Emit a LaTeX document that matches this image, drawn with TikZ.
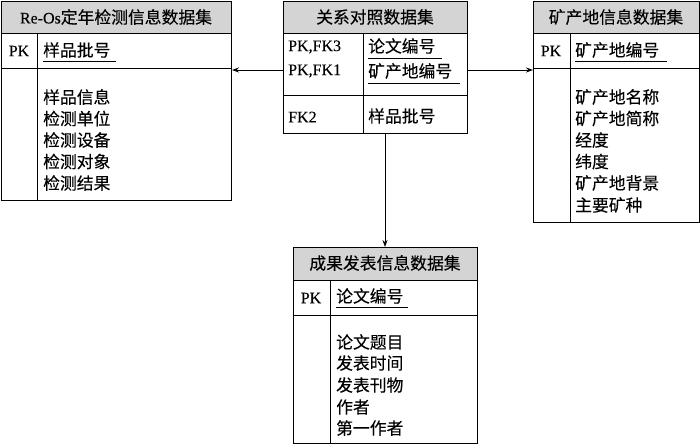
\documentclass[tikz,border=0pt]{standalone}
\usepackage{fontspec}
\setmainfont[FakeBold=0.15]{Liberation Serif}
\newfontfamily\cjk[Scale=1.05,FakeBold=0.15]{Noto Sans CJK SC}
\usetikzlibrary{arrows.meta}
\begin{document}
\begin{tikzpicture}[x=1pt,y=-1pt,
  ent/.style={draw, line width=1pt, anchor=north west, inner sep=0pt},
  hdr/.style={draw, line width=1pt, fill=black!17, anchor=north west, inner sep=0pt},
  sep/.style={line width=1pt},
  uline/.style={line width=0.8pt},
  lbl/.style={anchor=west, inner sep=0pt, font=\fontsize{16}{18}\selectfont},
  ttl/.style={inner sep=0pt, font=\fontsize{16}{18}\selectfont},
  arr/.style={line width=0.9pt, -{Stealth[length=7pt,width=5pt]}}]
\useasboundingbox (0,0) rectangle (700,446);

% ---------- Box A (left) ----------
\node[hdr, minimum width=230pt, minimum height=32pt] (Ah) at (1,1) {};
\node[ent, minimum width=230pt, minimum height=199pt] (A) at (1,1) {};
\draw[sep] (1,69) -- (231,69);
\draw[sep] (37,33) -- (37,200);
\node[ttl] (At) at (116,17) {Re-Os{\cjk 定年检测信息数据集}};
\node[ttl] (Apk) at (19,51) {PK};
\node[lbl] (Ak) at (43,50) {\cjk 样品批号};
\draw[uline] (43,61) -- (116,61);
\node[lbl] (A1) at (43,97) {\cjk 样品信息};
\node[lbl] (A2) at (43,118.5) {\cjk 检测单位};
\node[lbl] (A3) at (43,140) {\cjk 检测设备};
\node[lbl] (A4) at (43,161.5) {\cjk 检测对象};
\node[lbl] (A5) at (43,183) {\cjk 检测结果};

% ---------- Box C (center) ----------
\node[hdr, minimum width=184pt, minimum height=32pt] (Ch) at (283,1) {};
\node[ent, minimum width=184pt, minimum height=132pt] (C) at (283,1) {};
\draw[sep] (283,96) -- (467,96);
\draw[sep] (363,33) -- (363,133);
\node[ttl] (Ct) at (375,17) {\cjk 关系对照数据集};
\node[lbl] (Cpk1) at (288,47) {PK,FK3};
\node[lbl] (Cpk2) at (288,71) {PK,FK1};
\node[lbl] (Cfk) at (288,117) {FK2};
\node[lbl] (Ck1) at (368,46) {\cjk 论文编号};
\draw[uline] (368,58) -- (442,58);
\node[lbl] (Ck2) at (368,71) {\cjk 矿产地编号};
\draw[uline] (368,83) -- (460,83);
\node[lbl] (Ck3) at (368,116) {\cjk 样品批号};

% ---------- Box B (right) ----------
\node[hdr, minimum width=166pt, minimum height=32pt] (Bh) at (533,1) {};
\node[ent, minimum width=166pt, minimum height=221pt] (B) at (533,1) {};
\draw[sep] (533,69) -- (699,69);
\draw[sep] (570,33) -- (570,222);
\node[ttl] (Bt) at (616,17) {\cjk 矿产地信息数据集};
\node[ttl] (Bpk) at (551,51) {PK};
\node[lbl] (Bk) at (575,50) {\cjk 矿产地编号};
\draw[uline] (575,61) -- (667,61);
\node[lbl] (B1) at (575,97) {\cjk 矿产地名称};
\node[lbl] (B2) at (575,118.5) {\cjk 矿产地简称};
\node[lbl] (B3) at (575,140) {\cjk 经度};
\node[lbl] (B4) at (575,161.5) {\cjk 纬度};
\node[lbl] (B5) at (575,183) {\cjk 矿产地背景};
\node[lbl] (B6) at (575,205) {\cjk 主要矿种};

% ---------- Box D (bottom) ----------
\node[hdr, minimum width=184pt, minimum height=33pt] (Dh) at (293,247) {};
\node[ent, minimum width=184pt, minimum height=196pt] (D) at (293,247) {};
\draw[sep] (293,315) -- (477,315);
\draw[sep] (330,280) -- (330,443);
\node[ttl] (Dt) at (385,263) {\cjk 成果发表信息数据集};
\node[ttl] (Dpk) at (311,298) {PK};
\node[lbl] (Dk) at (336,296) {\cjk 论文编号};
\draw[uline] (336,307) -- (408,307);
\node[lbl] (D1) at (336,342) {\cjk 论文题目};
\node[lbl] (D2) at (336,363) {\cjk 发表时间};
\node[lbl] (D3) at (336,385) {\cjk 发表刊物};
\node[lbl] (D4) at (336,407) {\cjk 作者};
\node[lbl] (D5) at (336,428) {\cjk 第一作者};

% ---------- connectors ----------
\coordinate (ay) at (0,70);
\coordinate (dx) at (385,0);
\draw[arr] (C.west |- ay) -- (A.east |- ay);
\draw[arr] (C.east |- ay) -- (B.west |- ay);
\draw[arr] (C.south -| dx) -- (D.north -| dx);
\end{tikzpicture}
\end{document}
